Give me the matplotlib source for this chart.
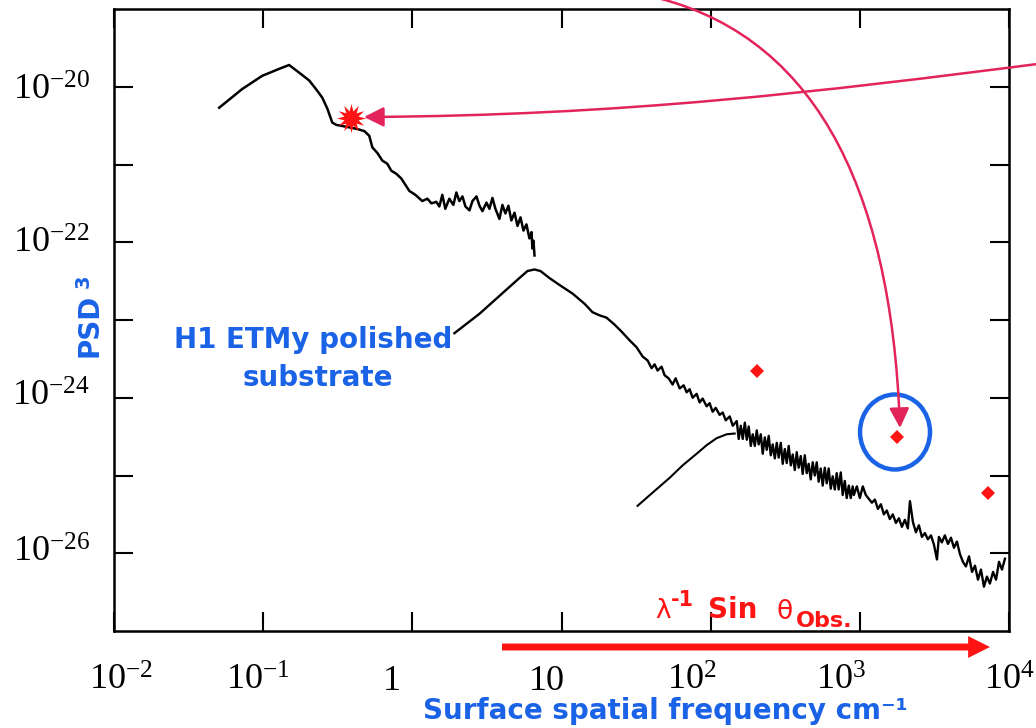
import matplotlib.pyplot as plt
import numpy as np
from matplotlib.patches import FancyArrowPatch, Ellipse
from matplotlib.path import Path

# 画布尺寸 (像素)
W, H = 1036, 728

# 低频段 PSD (log10 频率 cm^-1, log10 PSD)
f1_log = [-1.295, -1.141, -1.007, -0.893, -0.826, -0.758, -0.691, -0.638, -0.604, -0.570,
          -0.537, -0.510, -0.456, -0.376, -0.322, -0.289, -0.268, -0.235, -0.201, -0.168,
          -0.141, -0.107, -0.074, -0.047, -0.020, 0.020, 0.067, 0.101, 0.128, 0.161,
          0.181, 0.201, 0.221, 0.248, 0.275, 0.295, 0.315, 0.336, 0.356, 0.383,
          0.403, 0.430, 0.450, 0.470, 0.497, 0.517, 0.537, 0.557, 0.584, 0.604,
          0.624, 0.644, 0.664, 0.685, 0.705, 0.725, 0.745, 0.765, 0.785, 0.799,
          0.805, 0.812, 0.819]
psd1_log = [-20.27, -20.03, -19.86, -19.77, -19.72, -19.82, -19.92, -20.05, -20.14, -20.28,
            -20.46, -20.49, -20.51, -20.54, -20.57, -20.63, -20.78, -20.85, -20.95, -20.99,
            -21.08, -21.12, -21.18, -21.26, -21.34, -21.39, -21.47, -21.44, -21.50, -21.48,
            -21.54, -21.39, -21.57, -21.44, -21.52, -21.36, -21.47, -21.41, -21.54, -21.59,
            -21.47, -21.41, -21.53, -21.60, -21.49, -21.57, -21.43, -21.57, -21.70, -21.52,
            -21.63, -21.53, -21.72, -21.62, -21.79, -21.68, -21.85, -21.77, -21.95, -21.87,
            -22.08, -21.98, -22.17]

# 中高频段 PSD
f2_log = [0.282, 0.450, 0.584, 0.718, 0.772, 0.819, 0.859, 0.919, 0.987, 1.074,
          1.154, 1.208, 1.255, 1.302, 1.356, 1.403, 1.456, 1.503, 1.544, 1.577,
          1.604, 1.624, 1.644, 1.671, 1.691, 1.718, 1.745, 1.765, 1.792, 1.819,
          1.839, 1.859, 1.879, 1.906, 1.926, 1.946, 1.973, 1.993, 2.013, 2.034,
          2.060, 2.081, 2.101, 2.128, 2.148,
          2.175, 2.188, 2.202, 2.215, 2.229, 2.242, 2.255, 2.269, 2.282, 2.296,
          2.309, 2.322, 2.336, 2.349, 2.363, 2.376, 2.389, 2.403, 2.416, 2.430,
          2.443, 2.456, 2.470, 2.483, 2.497, 2.510, 2.523, 2.537, 2.550, 2.564,
          2.577, 2.590, 2.604, 2.617, 2.631, 2.644, 2.657, 2.671, 2.684, 2.698,
          2.711, 2.724, 2.738, 2.751, 2.765, 2.778, 2.791, 2.805, 2.818, 2.832,
          2.845, 2.858, 2.872, 2.885, 2.899, 2.912, 2.926, 2.939, 2.952,
          2.960, 2.980, 3.000, 3.020, 3.040, 3.060,
          3.081, 3.101, 3.121, 3.141, 3.161, 3.181, 3.201, 3.221, 3.242, 3.262,
          3.282, 3.302, 3.322, 3.336, 3.356, 3.376, 3.396, 3.416, 3.436, 3.456,
          3.477, 3.497, 3.517, 3.530, 3.550, 3.570, 3.591, 3.611, 3.631, 3.651,
          3.671, 3.691, 3.711, 3.732, 3.752, 3.772, 3.792, 3.812, 3.832, 3.852,
          3.872, 3.893, 3.913, 3.933, 3.953, 3.973]
psd2_log = [-23.17, -22.92, -22.69, -22.46, -22.37, -22.35, -22.37, -22.46, -22.55, -22.66,
            -22.79, -22.90, -22.94, -22.97, -23.06, -23.15, -23.26, -23.35, -23.47, -23.52,
            -23.62, -23.57, -23.65, -23.60, -23.71, -23.75, -23.83, -23.75, -23.88, -23.84,
            -23.93, -23.89, -24.00, -23.95, -24.06, -24.01, -24.11, -24.07, -24.18, -24.13,
            -24.22, -24.19, -24.29, -24.24, -24.36,
            -24.30, -24.53, -24.36, -24.53, -24.32, -24.54, -24.37, -24.62, -24.47, -24.62,
            -24.42, -24.60, -24.47, -24.72, -24.51, -24.67, -24.49, -24.74, -24.60, -24.78,
            -24.58, -24.77, -24.58, -24.85, -24.66, -24.84, -24.62, -24.87, -24.73, -24.93,
            -24.70, -24.90, -24.75, -24.98, -24.74, -24.97, -24.85, -25.05, -24.83, -25.00,
            -24.83, -25.08, -24.91, -25.13, -24.90, -25.10, -24.91, -25.17, -25.01, -25.18,
            -24.97, -25.18, -24.96, -25.25, -25.07, -25.29, -25.13, -25.29, -25.14,
            -25.25, -25.14, -25.29, -25.14, -25.25, -25.30,
            -25.35, -25.31, -25.43, -25.37, -25.50, -25.45, -25.56, -25.50, -25.61, -25.55,
            -25.66, -25.57, -25.68, -25.33, -25.60, -25.73, -25.64, -25.79, -25.74, -25.82,
            -25.77, -25.89, -26.08, -25.79, -25.86, -25.77, -25.88, -25.80, -25.93, -25.85,
            -26.01, -26.11, -26.17, -26.04, -26.24, -26.16, -26.34, -26.21, -26.43, -26.30,
            -26.39, -26.24, -26.34, -26.11, -26.21, -26.07]

# 高频段起始部分
f3_log = [1.510, 1.611, 1.725, 1.812, 1.906, 1.973, 2.040, 2.107, 2.161]
psd3_log = [-25.39, -25.22, -25.03, -24.87, -24.72, -24.61, -24.52, -24.47, -24.46]

# 散射观测点
obs_f = [204, 1770, 7230]
obs_psd = [2.2e-24, 3.1e-25, 5.9e-26]

# 标记点
star_f = [0.39]
star_psd = [4.0e-21]

x_ticks = [1e-2, 1e-1, 1, 10, 1e2, 1e3, 1e4]
x_tick_text = [r'$\mathregular{10^{-2}}$', r'$\mathregular{10^{-1}}$', '1', '10',
               r'$\mathregular{10^{2}}$', r'$\mathregular{10^{3}}$', r'$\mathregular{10^{4}}$']
x_tick_shift = [7, -5, -20, -15, -19, -19, 0]
y_ticks = [1e-26, 1e-25, 1e-24, 1e-23, 1e-22, 1e-21, 1e-20]
y_label_ticks = [1e-20, 1e-22, 1e-24, 1e-26]
y_tick_text = [r'$\mathregular{10^{-20}}$', r'$\mathregular{10^{-22}}$',
               r'$\mathregular{10^{-24}}$', r'$\mathregular{10^{-26}}$']
y_tick_shift = [-5, -2, 1, 0]

BLUE = '#1a62e6'
RED = '#ff1414'
CRIMSON = '#e3245a'


def fp(x, y):
    # 像素坐标 (左上为原点) -> figure fraction
    return x / W, 1 - y / H


plt.rcParams['font.family'] = ['DejaVu Sans']

fig = plt.figure(figsize=(W / 100, H / 100), dpi=100)
ax = fig.add_axes([114 / W, 1 - 631 / H, (1009 - 114) / W, (631 - 9) / H])
ax.set_xscale('log')
ax.set_yscale('log')
ax.set_xlim(1e-2, 1e4)
ax.set_ylim(1e-27, 1e-19)

ax.plot(10 ** np.array(f1_log), 10 ** np.array(psd1_log), color='black', lw=1.8)
ax.plot(10 ** np.array(f2_log), 10 ** np.array(psd2_log), color='black', lw=1.7)
ax.plot(10 ** np.array(f3_log), 10 ** np.array(psd3_log), color='black', lw=1.5)
ax.plot(obs_f, obs_psd, linestyle='none', marker='D', ms=7.5, color=RED, mew=0)
ax.plot(star_f, star_psd, linestyle='none', marker=(12, 1, 0), ms=21, color=RED, mew=0)

# 坐标轴样式
ax.set_xticks(x_ticks)
ax.set_yticks(y_ticks)
ax.xaxis.set_minor_locator(plt.NullLocator())
ax.yaxis.set_minor_locator(plt.NullLocator())
ax.tick_params(which='major', direction='in', length=14, width=1.5,
               top=True, right=True, labelbottom=False, labelleft=False)
for s in ax.spines.values():
    s.set_linewidth(1.8)

for v, t, dx in zip(x_ticks, x_tick_text, x_tick_shift):
    ax.annotate(t, xy=(v, 0), xycoords=('data', 'axes fraction'),
                xytext=(dx, -59), textcoords='offset pixels',
                ha='center', va='baseline', fontsize=26, family='Liberation Serif')
for v, t, dy in zip(y_label_ticks, y_tick_text, y_tick_shift):
    ax.annotate(t, xy=(0, v), xycoords=('axes fraction', 'data'),
                xytext=(-24, dy), textcoords='offset pixels',
                ha='right', va='center', fontsize=26, family='Liberation Serif')

# 文字说明
fig.text(*fp(313, 348), 'H1 ETMy polished', ha='center', va='baseline',
         fontsize=20, fontweight='bold', color=BLUE)
fig.text(*fp(318, 386), 'substrate', ha='center', va='baseline',
         fontsize=20, fontweight='bold', color=BLUE)
fig.text(*fp(89, 325), 'PSD', rotation=90, ha='center', va='center',
         fontsize=20, fontweight='bold', color=BLUE)
fig.text(*fp(83, 281), '3', rotation=90, ha='center', va='center',
         fontsize=14, fontweight='bold', color=BLUE)
fig.text(*fp(665, 719), 'Surface spatial frequency cm⁻¹', ha='center', va='baseline',
         fontsize=20, fontweight='bold', color=BLUE)

fig.text(*fp(655, 618), 'λ', ha='left', va='baseline', fontsize=19, color=RED)
fig.text(*fp(671, 606), '-1', ha='left', va='baseline', fontsize=15, fontweight='bold', color=RED)
fig.text(*fp(708, 618), 'Sin', ha='left', va='baseline', fontsize=20, fontweight='bold', color=RED)
fig.text(*fp(776, 619), 'θ', ha='left', va='baseline', fontsize=19, color=RED)
fig.text(*fp(796, 627), 'Obs.', ha='left', va='baseline', fontsize=16, fontweight='bold', color=RED)

# 底部红色箭头
fig.add_artist(FancyArrowPatch(fp(502, 647), fp(990, 647),
                               arrowstyle='simple,head_length=0.63,head_width=0.63,tail_width=0.2',
                               mutation_scale=25, lw=0, color=RED,
                               shrinkA=0, shrinkB=0, transform=fig.transFigure))

# 蓝色圆圈
fig.add_artist(Ellipse(fp(895, 432), 70 / W, 75 / H, transform=fig.transFigure,
                       fill=False, ec=BLUE, lw=3.2))

# 弯曲指示箭头
codes = [Path.MOVETO, Path.CURVE4, Path.CURVE4, Path.CURVE4]
arc_pts = [fp(645, -5), fp(810, 30), fp(891, 180), fp(900, 428)]
flat_pts = [fp(1045, 63), fp(820, 92), fp(622, 115.5), fp(364, 117)]
for pts in (arc_pts, flat_pts):
    fig.add_artist(FancyArrowPatch(path=Path(pts, codes),
                                   arrowstyle='-|>,head_length=1.0,head_width=0.5',
                                   mutation_scale=12, lw=1.8, color=CRIMSON,
                                   transform=fig.transFigure))

fig.savefig('out.png', dpi=100)
